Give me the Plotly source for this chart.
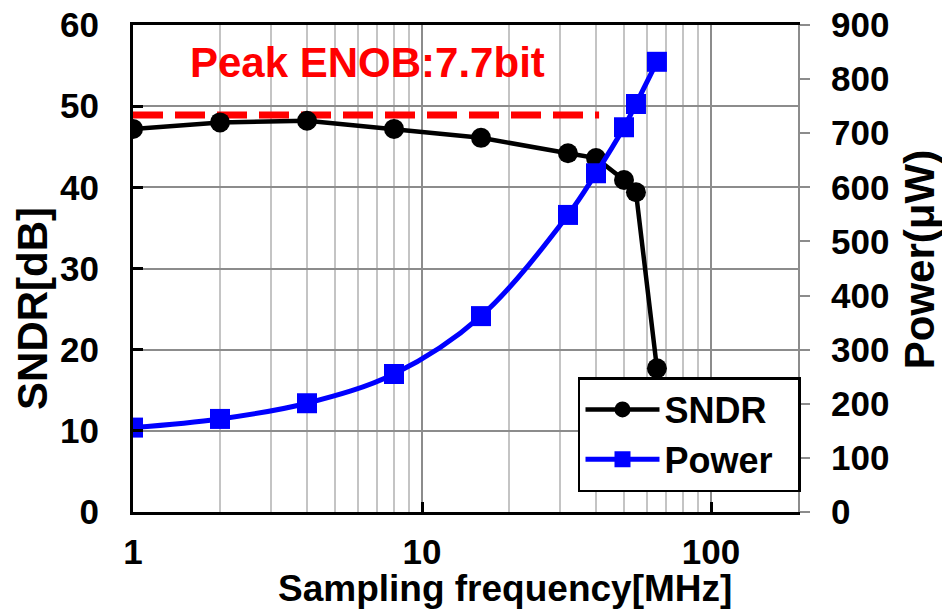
import plotly.graph_objects as go

freq = [1, 2, 4, 8, 16, 32, 40, 50, 55, 65]
sndr = [47.2, 48.0, 48.2, 47.2, 46.1, 44.2, 43.6, 40.9, 39.4, 17.7]
power = [156, 172, 201, 255, 362, 549, 626, 711, 754, 832]
enob_x = [1, 41]
enob_y = [48.9, 48.9]
enob_label = "Peak ENOB:7.7bit"
series_names = ["SNDR", "Power"]

FONT = "Liberation Sans, Arial, sans-serif"
PAD = "\u00a0\u00a0"

fig = go.Figure()
fig.add_trace(go.Scatter(x=enob_x, y=enob_y, mode="lines", showlegend=False,
                         line=dict(color="#ff0000", width=7, dash="30px,12px"), hoverinfo="skip"))
fig.add_trace(go.Scatter(x=freq, y=sndr, name=series_names[0] + PAD, mode="lines+markers",
                         line=dict(color="black", width=4.5),
                         marker=dict(symbol="circle", size=20, color="black")))
fig.add_trace(go.Scatter(x=freq, y=power, name=series_names[1] + PAD, mode="lines+markers", yaxis="y2",
                         line=dict(color="#0000ff", width=5, shape="spline"),
                         marker=dict(symbol="square", size=20, color="#0000ff")))

tickfont = dict(family=FONT, size=35, color="black", weight=700)

fig.update_layout(
    width=942, height=609,
    margin=dict(l=133, r=144, t=25, b=97, autoexpand=False),
    paper_bgcolor="white", plot_bgcolor="white",
    showlegend=True,
    legend=dict(x=1.0045, y=0.041, xanchor="right", yanchor="bottom",
                bgcolor="white", bordercolor="black", borderwidth=2.5,
                font=dict(family=FONT, size=36, color="black", weight=700),
                itemwidth=74, tracegroupgap=0),
    xaxis=dict(type="log", range=[0, 2.30103], dtick=1, automargin=False,
               showline=True, linecolor="black", linewidth=3, mirror=True,
               ticks="inside", ticklen=10, tickwidth=2.5, tickcolor="black",
               showgrid=True, gridcolor="#8c8c8c", gridwidth=2,
               minor=dict(dtick="D1", showgrid=True, gridcolor="#c4c4c4", gridwidth=2, ticks=""),
               tickfont=tickfont, ticklabelstandoff=7, zeroline=False),
    yaxis=dict(range=[0, 60], dtick=10, automargin=False,
               showline=True, linecolor="black", linewidth=3,
               ticks="inside", ticklen=10, tickwidth=2.5, tickcolor="black",
               showgrid=True, gridcolor="#8c8c8c", gridwidth=2,
               tickfont=tickfont, ticklabelstandoff=24, zeroline=False),
    yaxis2=dict(range=[0, 900], dtick=100, overlaying="y", side="right", automargin=False,
                showline=True, linecolor="#8c8c8c", linewidth=2,
                ticks="outside", ticklen=10, tickwidth=2, tickcolor="#8c8c8c",
                showgrid=False, zeroline=False,
                tickfont=tickfont, ticklabelstandoff=14),
)

titlefont = dict(family=FONT, size=42, color="black", weight=700)
fig.add_annotation(text="SNDR[dB]", xref="paper", yref="paper", x=0, y=0.417,
                   xshift=-100, textangle=-90, showarrow=False, font=titlefont,
                   xanchor="center", yanchor="middle")
fig.add_annotation(text="Power(μW)", xref="paper", yref="paper", x=1, y=0.517,
                   xshift=121, textangle=-90, showarrow=False, font=titlefont,
                   xanchor="center", yanchor="middle")
fig.add_annotation(text="Sampling frequency[MHz]", xref="paper", yref="paper", x=0.559, y=0,
                   yshift=-76, showarrow=False,
                   font=dict(family=FONT, size=37, color="black", weight=700),
                   xanchor="center", yanchor="middle")
fig.add_annotation(text=enob_label, xref="paper", yref="paper", x=0.352, y=0.922,
                   showarrow=False, font=dict(family=FONT, size=42, color="#ff0000", weight=700),
                   xanchor="center", yanchor="middle")

fig.write_html("out.html", config={"displayModeBar": False},
               post_script="document.body.style.margin='0';")
